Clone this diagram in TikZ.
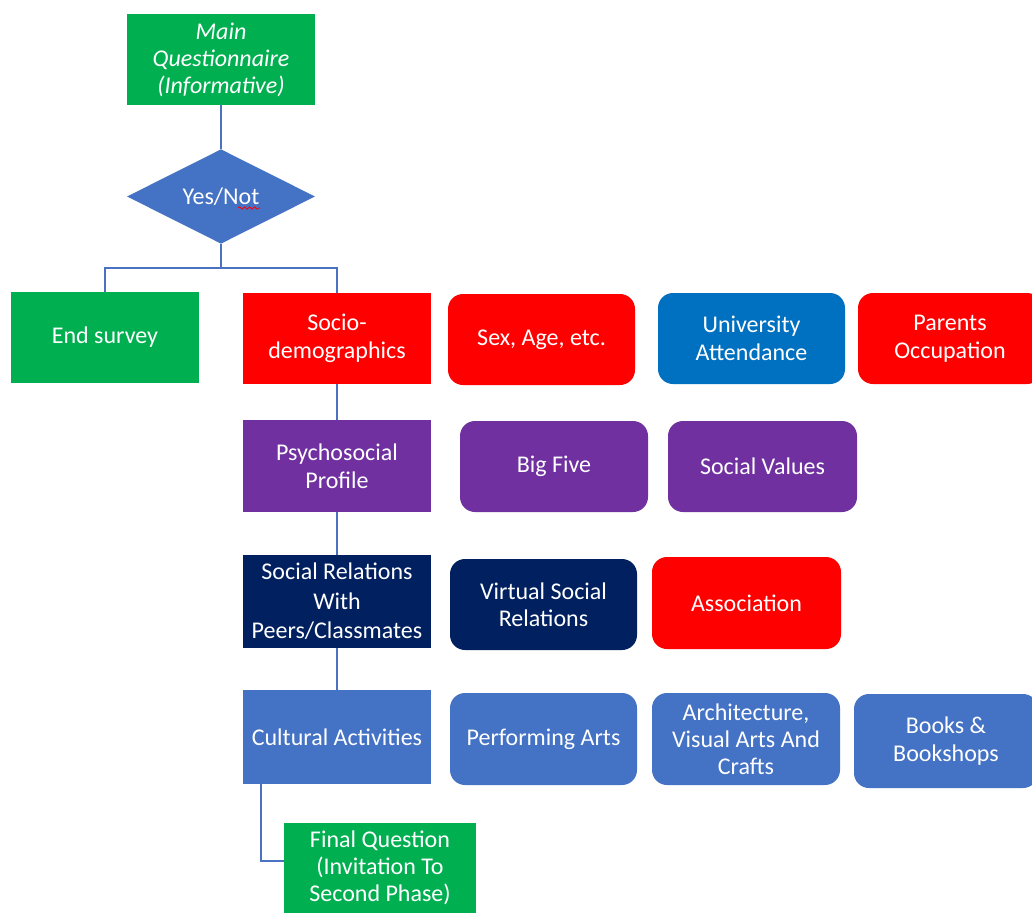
\documentclass[tikz,border=0pt]{standalone}
\usepackage{fontspec}
\setmainfont{Carlito}
\usetikzlibrary{shapes.geometric,decorations.pathmorphing}
\definecolor{cgreen}{HTML}{00B050}
\definecolor{cred}{HTML}{FF0000}
\definecolor{cblue}{HTML}{4472C4}
\definecolor{cdblue}{HTML}{0070C0}
\definecolor{cpurple}{HTML}{7030A0}
\definecolor{cnavy}{HTML}{002060}
\definecolor{cline}{HTML}{4A72C0}
\tikzset{
  box/.style={rectangle, draw=none, text=white, align=center, inner sep=0pt,
    font=\fontsize{24}{27.5}\selectfont},
  sq/.style={box, minimum width=188pt, minimum height=91pt},
  rbox/.style={box, rounded corners=15pt, minimum width=187pt, minimum height=91pt},
  link/.style={draw=cline, line width=1.6pt},
}
\begin{document}
\begin{tikzpicture}[x=1pt,y=-1pt]
\useasboundingbox (0,0) rectangle (1032,912);
\clip (0,0) rectangle (1032,912);
\fill[white] (0,0) rectangle (1032,912);

% top of the flow
\node[sq, fill=cgreen, font=\fontsize{24}{27}\selectfont\itshape] (main) at (221,59.5)
  {Main\\Questionnaire\\(Informative)};
\node[box, shape=diamond, fill=cblue, minimum width=188pt, minimum height=92pt] (dia) at (221,196.5) {Yes/Not};
\draw[cred, line width=0.8pt, decorate, decoration={snake, amplitude=1.2pt, segment length=5pt}]
  (238,208) -- (260,208);

% first row
\node[sq, fill=cgreen] (end) at (105,337.5) {End survey};
\node[sq, fill=cred] (socio) at (337,338.5) {Socio-\\demographics};
\node[rbox, fill=cred] (sex) at (541.5,339.5) {Sex, Age, etc.};
\node[rbox, fill=cdblue] (univ) at (751.5,338.5) {University\\Attendance};
\node[rbox, fill=cred, minimum width=184pt] (parents) at (950,338.5) {Parents\\Occupation};

% second row
\node[sq, fill=cpurple, minimum height=92pt] (psycho) at (337,466) {Psychosocial\\Profile};
\node[rbox, fill=cpurple, minimum width=188pt] (big) at (554,466.5) {Big Five};
\node[rbox, fill=cpurple, minimum width=189pt] (values) at (762.5,466.5) {Social Values};

% third row
\node[sq, fill=cnavy, minimum height=93pt, font=\fontsize{24}{29.5}\selectfont] (social) at (337,601.5)
  {Social Relations\\With\\Peers/Classmates};
\node[rbox, fill=cnavy] (virtual) at (543.5,604.5) {Virtual Social\\Relations};
\node[rbox, fill=cred, minimum width=189pt, minimum height=92pt] (assoc) at (746.5,603) {Association};

% fourth row
\node[sq, fill=cblue, minimum height=94pt] (cult) at (337,737) {Cultural Activities};
\node[rbox, fill=cblue, minimum height=92pt] (perf) at (543.5,739) {Performing Arts};
\node[rbox, fill=cblue, minimum width=188pt, minimum height=92pt, font=\fontsize{24}{27}\selectfont] (arch) at (746,739)
  {Architecture,\\Visual Arts And\\Crafts};
\node[rbox, fill=cblue, minimum width=184pt, minimum height=94pt] (books) at (946,741) {Books \&\\Bookshops};

% closing step
\node[sq, fill=cgreen, minimum width=192pt, minimum height=90pt, font=\fontsize{24}{27}\selectfont] (final) at (380,868)
  {Final Question\\(Invitation To\\Second Phase)};

% connectors
\coordinate (j) at (221,268);
\draw[link] (main.south) -- (dia.north);
\draw[link] (dia.south) -- (j);
\draw[link] (end.north) |- (j) -| (socio.north);
\draw[link] (socio.south) -- (psycho.north);
\draw[link] (psycho.south) -- (social.north);
\draw[link] (social.south) -- (cult.north);
\draw[link] ([xshift=18pt]cult.south west) |- ([yshift=7pt]final.west);
\end{tikzpicture}
\end{document}
